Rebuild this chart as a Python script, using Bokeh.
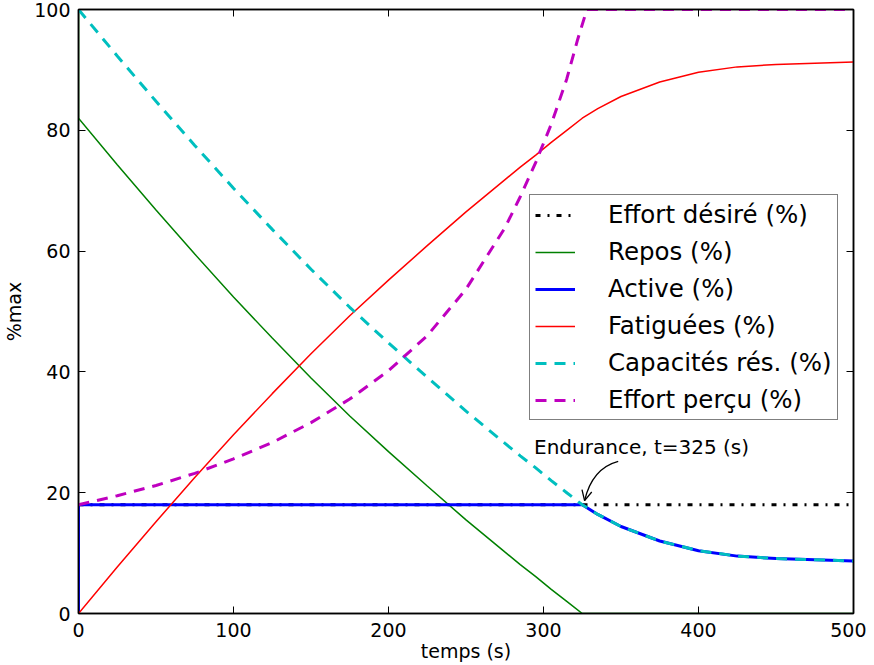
from bokeh.plotting import figure
from bokeh.models import (Range1d, LinearAxis, FixedTicker, Legend, LegendItem,
                          Label, Arrow, OpenHead)
from bokeh.embed import file_html
from bokeh.resources import INLINE

FONT = "DejaVu Sans"

# ---- data ----
time_s = [0, 25, 50, 75, 100, 125, 150, 175, 200, 225, 250, 275, 285, 295,
          305, 315, 325, 335, 350, 375, 400, 425, 450, 475, 500]
effort_desire = [18] * 25
fatiguees = [0, 7.7, 15.2, 22.5, 29.6, 36.4, 43.0, 49.3, 55.2, 60.9, 66.5, 71.8,
             73.9, 75.9, 78.0, 80.0, 82.0, 83.6, 85.6, 88.0, 89.6, 90.5, 90.9,
             91.1, 91.3]
capacites = [100, 92.3, 84.8, 77.5, 70.4, 63.6, 57.0, 50.7, 44.8, 39.1, 33.5,
             28.2, 26.1, 24.1, 22.0, 20.0, 18.0, 16.4, 14.4, 12.0, 10.4, 9.5,
             9.1, 8.9, 8.7]
time_percu = [0, 25, 50, 75, 100, 125, 150, 175, 200, 225, 250, 275, 285, 295,
              305, 315, 322, 328, 350, 400, 450, 500]
effort_percu = [18.0, 19.5, 21.2, 23.2, 25.6, 28.3, 31.6, 35.5, 40.2, 46.0,
                53.7, 63.8, 69.0, 74.7, 81.0, 88.5, 95.0, 100, 100, 100, 100, 100]
# Repos and Active start with a jump at t=0
time_jump = [0] + time_s
repos = [100, 82.0, 74.3, 66.8, 59.5, 52.4, 45.6, 39.0, 32.7, 26.8, 21.1, 15.5,
         10.2, 8.1, 6.1, 4.0, 2.0, 0, 0, 0, 0, 0, 0, 0, 0, 0]
active = [0, 18, 18, 18, 18, 18, 18, 18, 18, 18, 18, 18, 18, 18, 18, 18, 18, 18,
          16.4, 14.4, 12.0, 10.4, 9.5, 9.1, 8.9, 8.7]

x_ticks = [0, 100, 200, 300, 400, 500]
y_ticks = [0, 20, 40, 60, 80, 100]

endurance_t = 325
endurance_level = 18
annotation_text = "Endurance, t=325 (s)"

# ---- figure ----
p = figure(width=866, height=666, x_range=Range1d(0, 500), y_range=Range1d(0, 100),
           output_backend="svg", toolbar_location=None,
           min_border_left=71, min_border_right=13, min_border_top=9,
           min_border_bottom=53)
p.xgrid.visible = False
p.ygrid.visible = False
p.outline_line_color = "black"
p.outline_line_width = 1.5
p.background_fill_color = "white"
p.border_fill_color = "white"

for ax, ticks in ((p.xaxis[0], x_ticks), (p.yaxis[0], y_ticks)):
    ax.ticker = FixedTicker(ticks=ticks)
    ax.major_tick_in = 7
    ax.major_tick_out = 0
    ax.minor_tick_line_color = None
    ax.axis_line_color = "black"
    ax.axis_line_width = 1.5
    ax.major_tick_line_color = "black"
    ax.major_label_text_font = FONT
    ax.major_label_text_font_size = "19px"
    ax.major_label_text_color = "black"
    ax.axis_label_text_font = FONT
    ax.axis_label_text_font_size = "19px"
    ax.axis_label_text_font_style = "normal"
    ax.axis_label_text_color = "black"

p.xaxis[0].axis_label = "temps (s)"
p.xaxis[0].major_label_standoff = 9
p.xaxis[0].axis_label_standoff = 0
p.yaxis[0].axis_label = "%max"
p.yaxis[0].major_label_standoff = 8
p.yaxis[0].axis_label_standoff = 6

for loc, ticks in (("right", y_ticks), ("above", x_ticks)):
    ax = LinearAxis(ticker=FixedTicker(ticks=ticks), major_tick_in=7,
                    major_tick_out=0, minor_tick_line_color=None,
                    major_label_text_font_size="1px", major_label_standoff=0,
                    major_label_overrides={t: "" for t in ticks},
                    axis_line_color="black", axis_line_width=1.5,
                    major_tick_line_color="black")
    p.add_layout(ax, loc)

# ---- lines ----
r_des = p.line(time_s, effort_desire, line_color="black", line_width=3,
               line_dash="5 7 2 7")
r_rep = p.line(time_jump, repos, line_color="#008000", line_width=1.5)
r_act = p.line(time_jump, active, line_color="#0000ff", line_width=3)
r_fat = p.line(time_s, fatiguees, line_color="#ff0000", line_width=1.5)
r_cap = p.line(time_s, capacites, line_color="#00bfbf", line_width=3,
               line_dash="11 8")
r_per = p.line(time_percu, effort_percu, line_color="#bf00bf", line_width=3,
               line_dash="11 8")

# ---- annotation ----
p.add_layout(Label(x=293.9, y=27.5, text=annotation_text, text_font=FONT,
                   text_font_size="20px", text_baseline="middle",
                   text_color="black"))
p.quadratic(x0=[348.2], y0=[25.2], x1=[endurance_t + 1.5], y1=[endurance_level + 0.7],
            cx=[331.4], cy=[24.05], line_color="black", line_width=1.3)
p.add_layout(Arrow(end=OpenHead(size=10, line_width=1.3, line_color="black"),
                   x_start=331.4, y_start=24.05,
                   x_end=endurance_t + 1.5, y_end=endurance_level + 0.7,
                   line_alpha=0))

# ---- legend ----
legend = Legend(items=[
    LegendItem(label="Effort désiré (%)", renderers=[r_des]),
    LegendItem(label="Repos (%)", renderers=[r_rep]),
    LegendItem(label="Active (%)", renderers=[r_act]),
    LegendItem(label="Fatiguées (%)", renderers=[r_fat]),
    LegendItem(label="Capacités rés. (%)", renderers=[r_cap]),
    LegendItem(label="Effort perçu (%)", renderers=[r_per]),
], location=(451, 193), margin=0, padding=5, spacing=8,
    glyph_width=40, glyph_height=24, label_height=24, label_standoff=33,
    label_text_font=FONT, label_text_font_size="24.5px", label_text_color="black",
    border_line_color="black", border_line_width=1.5, background_fill_alpha=1.0)
p.add_layout(legend)

open("out.html", "w").write(file_html(p, INLINE))
